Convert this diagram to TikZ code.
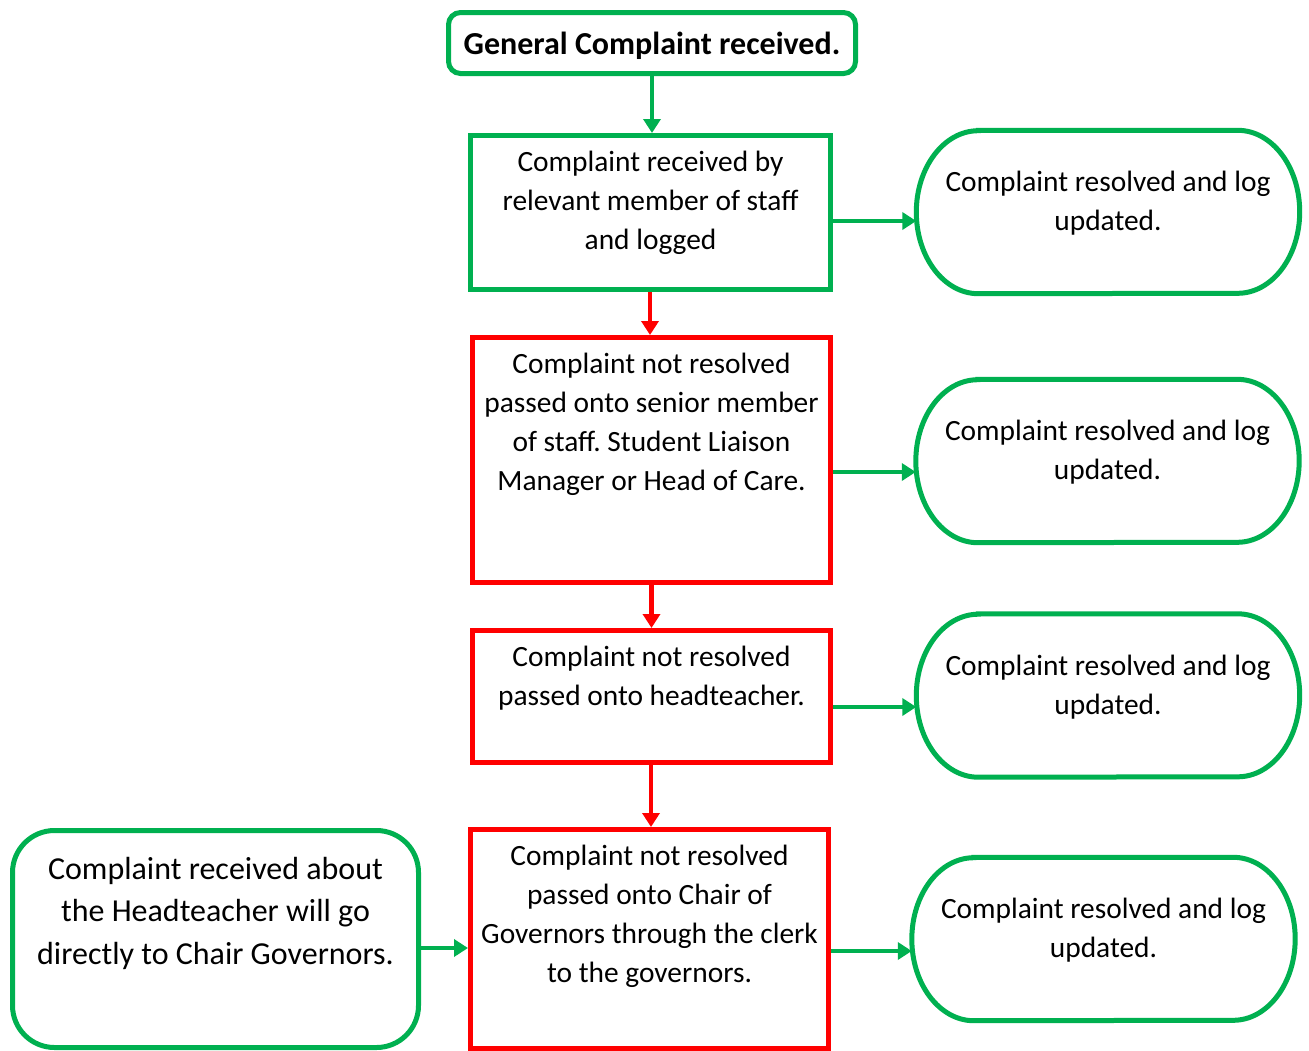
\documentclass[tikz,border=0pt]{standalone}
\usepackage{fontspec}
\setmainfont{Carlito}
\usetikzlibrary{arrows.meta,calc}
\definecolor{cgreen}{HTML}{00B050}
\definecolor{cred}{HTML}{FF0000}
\frenchspacing
\tikzset{
  gline/.style={draw=cgreen,line width=5pt},
  rline/.style={draw=cred,line width=5pt},
  gbox/.style={gline,rectangle,inner sep=0pt},
  rbox/.style={rline,rectangle,inner sep=0pt},
  tbox/.style={rectangle,inner sep=0pt,draw=none,minimum width=383pt,minimum height=163pt},
  txt/.style={align=center,inner sep=0pt,font=\fontsize{29.4pt}{39pt}\selectfont},
  garrow/.style={draw=cgreen,line width=4.5pt,-{Triangle[width=17pt,length=14pt]}},
  rarrow/.style={draw=cred,line width=4.5pt,-{Triangle[width=17pt,length=14pt]}},
}
\newcommand\stadium[3]{%
  \node[tbox] (#1) at (#2,#3) {};
  \draw[gline] ($(#1.north west)+(62pt,0)$) -- ($(#1.north east)+(-62pt,0)$)
    arc[start angle=90,end angle=-90,x radius=62pt,y radius=81.5pt]
    -- ($(#1.south west)+(62pt,0)$)
    arc[start angle=270,end angle=90,x radius=62pt,y radius=81.5pt] -- cycle;
}
\begin{document}
\begin{tikzpicture}[x=1pt,y=1pt]
\useasboundingbox (0,0) rectangle (1309,-1050);
\clip (0,0) rectangle (1309,-1050);
\fill[white] (0,0) rectangle (1309,-1050);

% top
\node[gbox,rounded corners=12pt,minimum width=407pt,minimum height=61pt] (top) at (652,-43) {};
\node[txt,font=\fontsize{32pt}{39pt}\selectfont\bfseries] (toptxt) at (652,-46) {General Complaint received.};

% box 1
\node[gbox,minimum width=360pt,minimum height=154pt] (b1) at (650.5,-212.5) {};
\node[txt] (b1t) at (650.5,-203) {Complaint received by\\relevant member of staff\\and logged};
\stadium{r1}{1108}{-212}
\node[txt] (r1t) at (1108,-203) {Complaint resolved and log\\updated.};

% box 2
\node[rbox,minimum width=358pt,minimum height=245pt] (b2) at (651.5,-460) {};
\node[txt] (b2t) at (651.5,-424) {Complaint not resolved\\passed onto senior member\\of staff. Student Liaison\\Manager or Head of Care.};
\stadium{r2}{1107.5}{-461}
\node[txt] (r2t) at (1107.5,-452) {Complaint resolved and log\\updated.};

% box 3
\node[rbox,minimum width=358pt,minimum height=132pt] (b3) at (651.5,-696.5) {};
\node[txt] (b3t) at (651.5,-678) {Complaint not resolved\\passed onto headteacher.};
\stadium{r3}{1108}{-695.5}
\node[txt] (r3t) at (1108,-687) {Complaint resolved and log\\updated.};

% box 4
\node[rbox,minimum width=358pt,minimum height=218.5pt] (b4) at (649.5,-938.75) {};
\node[txt] (b4t) at (649.5,-916) {Complaint not resolved\\passed onto Chair of\\Governors through the clerk\\to the governors.};
\stadium{r4}{1103.5}{-939}
\node[txt] (r4t) at (1103.5,-930) {Complaint resolved and log\\updated.};

% left box
\node[gbox,rounded corners=42pt,minimum width=406pt,minimum height=217pt] (lb) at (215.5,-939) {};
\node[txt,font=\fontsize{32pt}{42.5pt}\selectfont] (lbt) at (215.5,-913) {Complaint received about\\the Headteacher will go\\directly to Chair Governors.};

% vertical arrows
\draw[garrow] (top.south) -- (top.south |- b1.north);
\draw[rarrow] (b1.south -| 650,0) -- (b2.north -| 650,0);
\draw[rarrow] (b2.south) -- (b3.north);
\draw[rarrow] (b3.south -| 651,0) -- (b4.north -| 651,0);

% horizontal arrows
\draw[garrow] (b1.east |- 0,-221) -- (r1.west |- 0,-221);
\draw[garrow] (b2.east |- 0,-472) -- (r2.west |- 0,-472);
\draw[garrow] (b3.east |- 0,-707) -- (r3.west |- 0,-707);
\draw[garrow] (b4.east |- 0,-951) -- (r4.west |- 0,-951);
\draw[garrow] (lb.east |- 0,-948) -- (b4.west |- 0,-948);
\end{tikzpicture}
\end{document}
